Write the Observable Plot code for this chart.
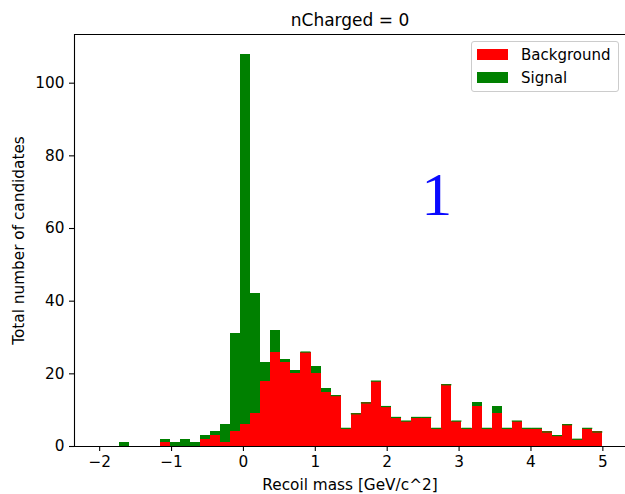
<!DOCTYPE html>
<html>
<head>
<meta charset="utf-8">
<script src="https://cdn.jsdelivr.net/npm/d3@7"></script>
<script src="https://cdn.jsdelivr.net/npm/@observablehq/plot@0.6"></script>
<style>
  html, body { margin: 0; padding: 0; background: #fff; overflow: hidden; }
  #wrap { position: relative; width: 625px; height: 494px; font-family: "DejaVu Sans", sans-serif; }
  #legend { position: absolute; left: 471px; top: 41px; width: 146px; height: 49px;
            border: 1px solid #cccccc; border-radius: 3px; background: rgba(255,255,255,0.8);
            font-size: 15px; color: #000; box-sizing: content-box; }
  .item { position: absolute; left: 5px; height: 12px; }
  .sw { position: absolute; left: 0; top: 0; width: 31px; height: 11px; }
  .lbl { position: absolute; left: 44px; top: -2px; white-space: nowrap; line-height: 16px; }
</style>
</head>
<body>
<div id="wrap"><div id="chart"></div><div id="legend"></div></div>
<script>
// Bin edges of the histogram (50 bins, -2 .. 5)
const binEdges = [-2, -1.86, -1.72, -1.58, -1.44, -1.3, -1.16, -1.02, -0.88, -0.74,
  -0.6, -0.46, -0.32, -0.18, -0.04, 0.1, 0.24, 0.38, 0.52, 0.66,
  0.8, 0.94, 1.08, 1.22, 1.36, 1.5, 1.64, 1.78, 1.92, 2.06,
  2.2, 2.34, 2.48, 2.62, 2.76, 2.9, 3.04, 3.18, 3.32, 3.46,
  3.6, 3.74, 3.88, 4.02, 4.16, 4.3, 4.44, 4.58, 4.72, 4.86, 5];

// Background counts per bin
const background = [0, 0, 0, 0, 0, 0, 1, 0, 0, 0,
  2, 3, 1, 4, 6, 9, 18, 26, 23, 20,
  26, 20, 15, 14, 5, 9, 12, 18, 11, 8,
  7, 8, 8, 5, 17, 7, 5, 11, 5, 9,
  5, 7, 5, 5, 4, 3, 6, 2, 5, 4];

// Signal counts per bin (stacked on top of background)
const signal = [0, 0, 1, 0, 0, 0, 1, 1, 2, 1,
  1, 1, 5, 27, 102, 33, 5, 6, 1, 1,
  0, 2, 1, 0, 0, 0, 0, 0, 0, 0,
  0, 0, 0, 0, 0, 0, 0, 1, 0, 2,
  0, 0, 0, 0, 0, 0, 0, 0, 0, 0];

const xTicks = [-2, -1, 0, 1, 2, 3, 4, 5];
const yTicks = [0, 20, 40, 60, 80, 100];
const xDomain = [-2.35, 5.315];
const yDomain = [0, 113.4];

const seriesNames = ["Background", "Signal"];
const seriesColors = ["#ff0000", "#008000"];

const titleText = "nCharged = 0";
const xLabel = "Recoil mass [GeV/c^2]";
const yLabel = "Total number of candidates";

const annotX = [2.69];
const annotY = [63.6];
const annotText = ["1"];

const bins = background.map((b, i) => ({
  x1: binEdges[i], x2: binEdges[i + 1], bkg: b, sig: signal[i]
}));
const annot = annotText.map((t, i) => ({x: annotX[i], y: annotY[i], t}));

const fmt = d => d < 0 ? "\u2212" + Math.abs(d) : String(d);

const chart = Plot.plot({
  width: 625,
  height: 494,
  marginLeft: 74,
  marginRight: 0,
  marginTop: 34,
  marginBottom: 48,
  style: {fontFamily: "DejaVu Sans", fontSize: "15.3px", color: "black", background: "white"},
  x: {domain: xDomain},
  y: {domain: yDomain},
  marks: [
    Plot.rectY(bins.filter(d => d.bkg > 0), {x1: "x1", x2: "x2", y1: 0, y2: "bkg", fill: seriesColors[0],
      inset: 0, shapeRendering: "crispEdges"}),
    Plot.rectY(bins.filter(d => d.sig > 0), {x1: "x1", x2: "x2", y1: "bkg", y2: d => d.bkg + d.sig, fill: seriesColors[1],
      inset: 0, shapeRendering: "crispEdges"}),
    Plot.ruleY(bins.filter(d => d.bkg > 0 && d.sig === 0), {x1: "x1", x2: "x2", y: "bkg", stroke: seriesColors[1], strokeWidth: 1.2}),
    Plot.ruleY([yDomain[0]], {stroke: "black", strokeWidth: 1.1}),
    Plot.ruleY([yDomain[1]], {stroke: "black", strokeWidth: 1.1}),
    Plot.ruleX([xDomain[0]], {stroke: "black", strokeWidth: 1.1}),
    Plot.axisX({ticks: xTicks, tickSize: 5, tickPadding: 5, tickFormat: fmt,
      label: xLabel, labelAnchor: "center", labelOffset: 43, labelArrow: "none",
      fontSize: "15.3px", strokeWidth: 1.1}),
    Plot.axisY({ticks: yTicks, tickSize: 5, tickPadding: 5, tickFormat: fmt,
      label: yLabel, labelAnchor: "center", labelOffset: 61, labelArrow: "none",
      fontSize: "15.3px", strokeWidth: 1.1}),
    Plot.text([titleText], {text: d => d, frameAnchor: "top", dy: -9, lineAnchor: "bottom", fontSize: "17px"}),
    Plot.text(annot, {x: "x", y: "y", text: "t", fill: "#0a0aff", fontFamily: "Liberation Serif",
      fontSize: "62px", lineAnchor: "bottom", textAnchor: "middle"})
  ]
});
document.getElementById("chart").appendChild(chart);

const legend = document.getElementById("legend");
seriesNames.forEach((name, i) => {
  const item = document.createElement("div");
  item.className = "item";
  item.style.top = (7 + i * 22.7) + "px";
  item.innerHTML = `<div class="sw" style="background:${seriesColors[i]}"></div><div class="lbl">${name}</div>`;
  legend.appendChild(item);
});
</script>
</body>
</html>
